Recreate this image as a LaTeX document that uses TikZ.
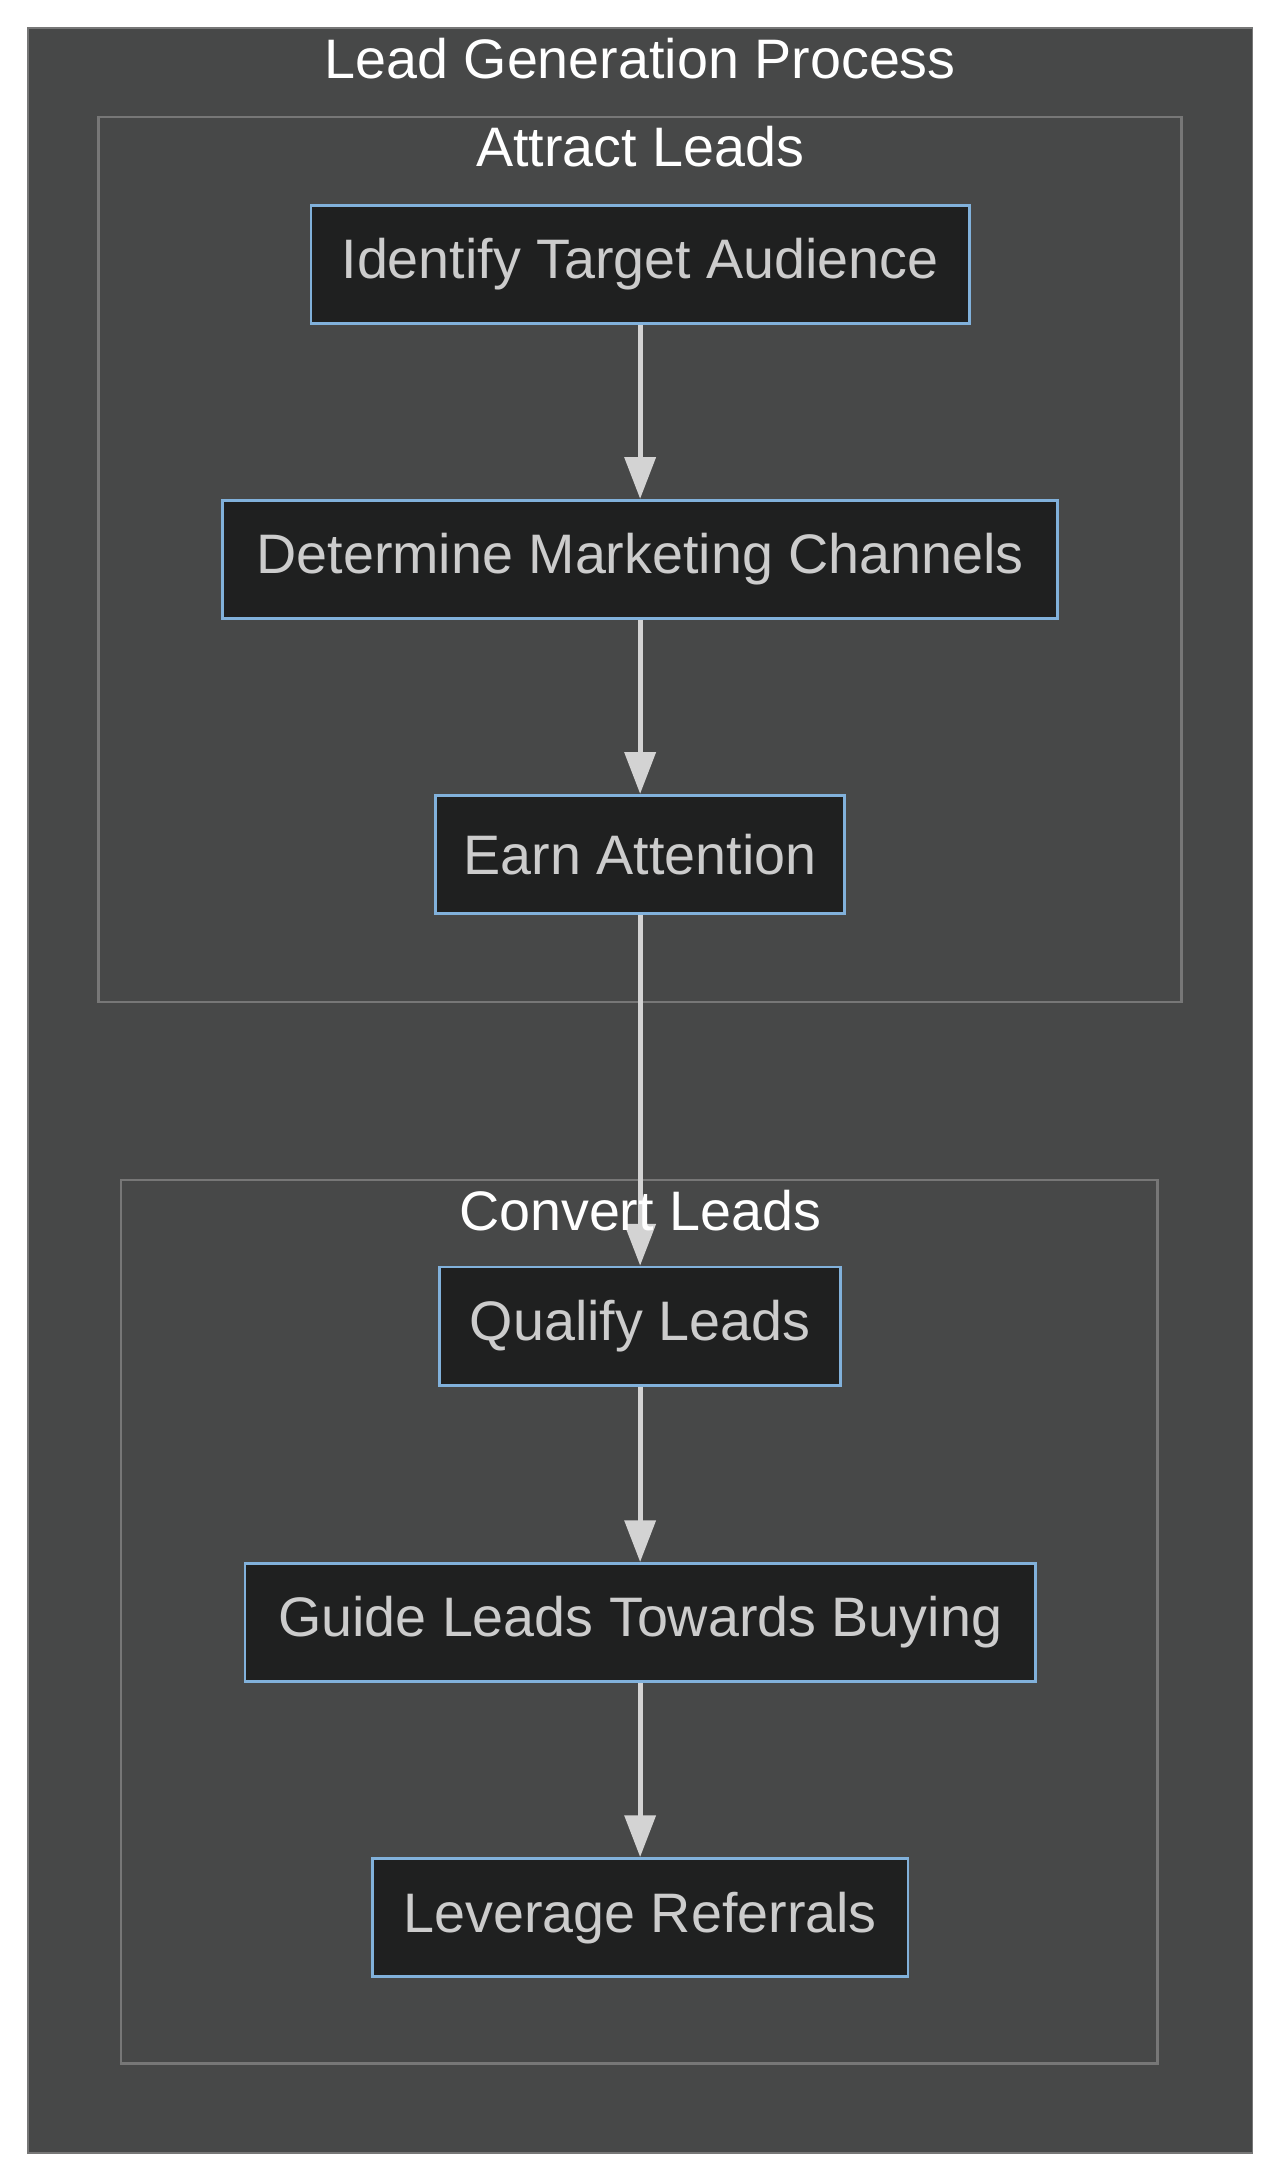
\documentclass[tikz,border=0pt]{standalone}
\usepackage{fontspec}
\setmainfont{Liberation Sans}
\usetikzlibrary{arrows.meta}
\definecolor{bgc}{HTML}{474848}
\definecolor{nodef}{HTML}{1F2020}
\definecolor{nodeb}{HTML}{81B1DB}
\definecolor{txt}{HTML}{CCCCCC}
\definecolor{clb}{HTML}{777777}
\definecolor{arr}{HTML}{D3D3D3}
\begin{document}
\begin{tikzpicture}[x=1pt,y=-1pt,
  stepbox/.style={draw=nodeb,fill=nodef,line width=2pt,text=txt,font=\fontsize{40}{44}\selectfont,minimum height=85pt,inner sep=0pt},
  cluster/.style={draw=clb,line width=2pt},
  ttl/.style={text=white,font=\fontsize{40}{44}\selectfont},
  conn/.style={draw=arr,line width=3.5pt,-{Triangle[width=22pt,length=30pt]}}]
\useasboundingbox (0,0) rectangle (920,1568);
\fill[white] (0,0) rectangle (920,1568);
\draw[fill=bgc,draw=clb,line width=1pt] (20,20) rectangle (900,1547);
\node[ttl] (t0) at (460,42) {Lead Generation Process};
\draw[cluster] (71,84) rectangle (849,720);
\node[ttl] (t1) at (460,105) {Attract Leads};
\draw[cluster] (87,848) rectangle (832,1483);
\node[stepbox,minimum width=473pt] (a) at (460,190) {Identify Target Audience};
\node[stepbox,minimum width=600pt] (b) at (460,402) {Determine Marketing Channels};
\node[stepbox,minimum width=294pt] (c) at (460,614) {Earn Attention};
\node[stepbox,minimum width=288pt] (d) at (460,953) {Qualify Leads};
\node[stepbox,minimum width=568pt] (e) at (460,1166) {Guide Leads Towards Buying};
\node[stepbox,minimum width=385pt] (f) at (460,1378) {Leverage Referrals};
\draw[conn] (a) -- (b);
\draw[conn] (b) -- (c);
\draw[conn] (c) -- (d);
\draw[conn] (d) -- (e);
\draw[conn] (e) -- (f);
\node[ttl] (t2) at (460,870) {Convert Leads};
\end{tikzpicture}
\end{document}
